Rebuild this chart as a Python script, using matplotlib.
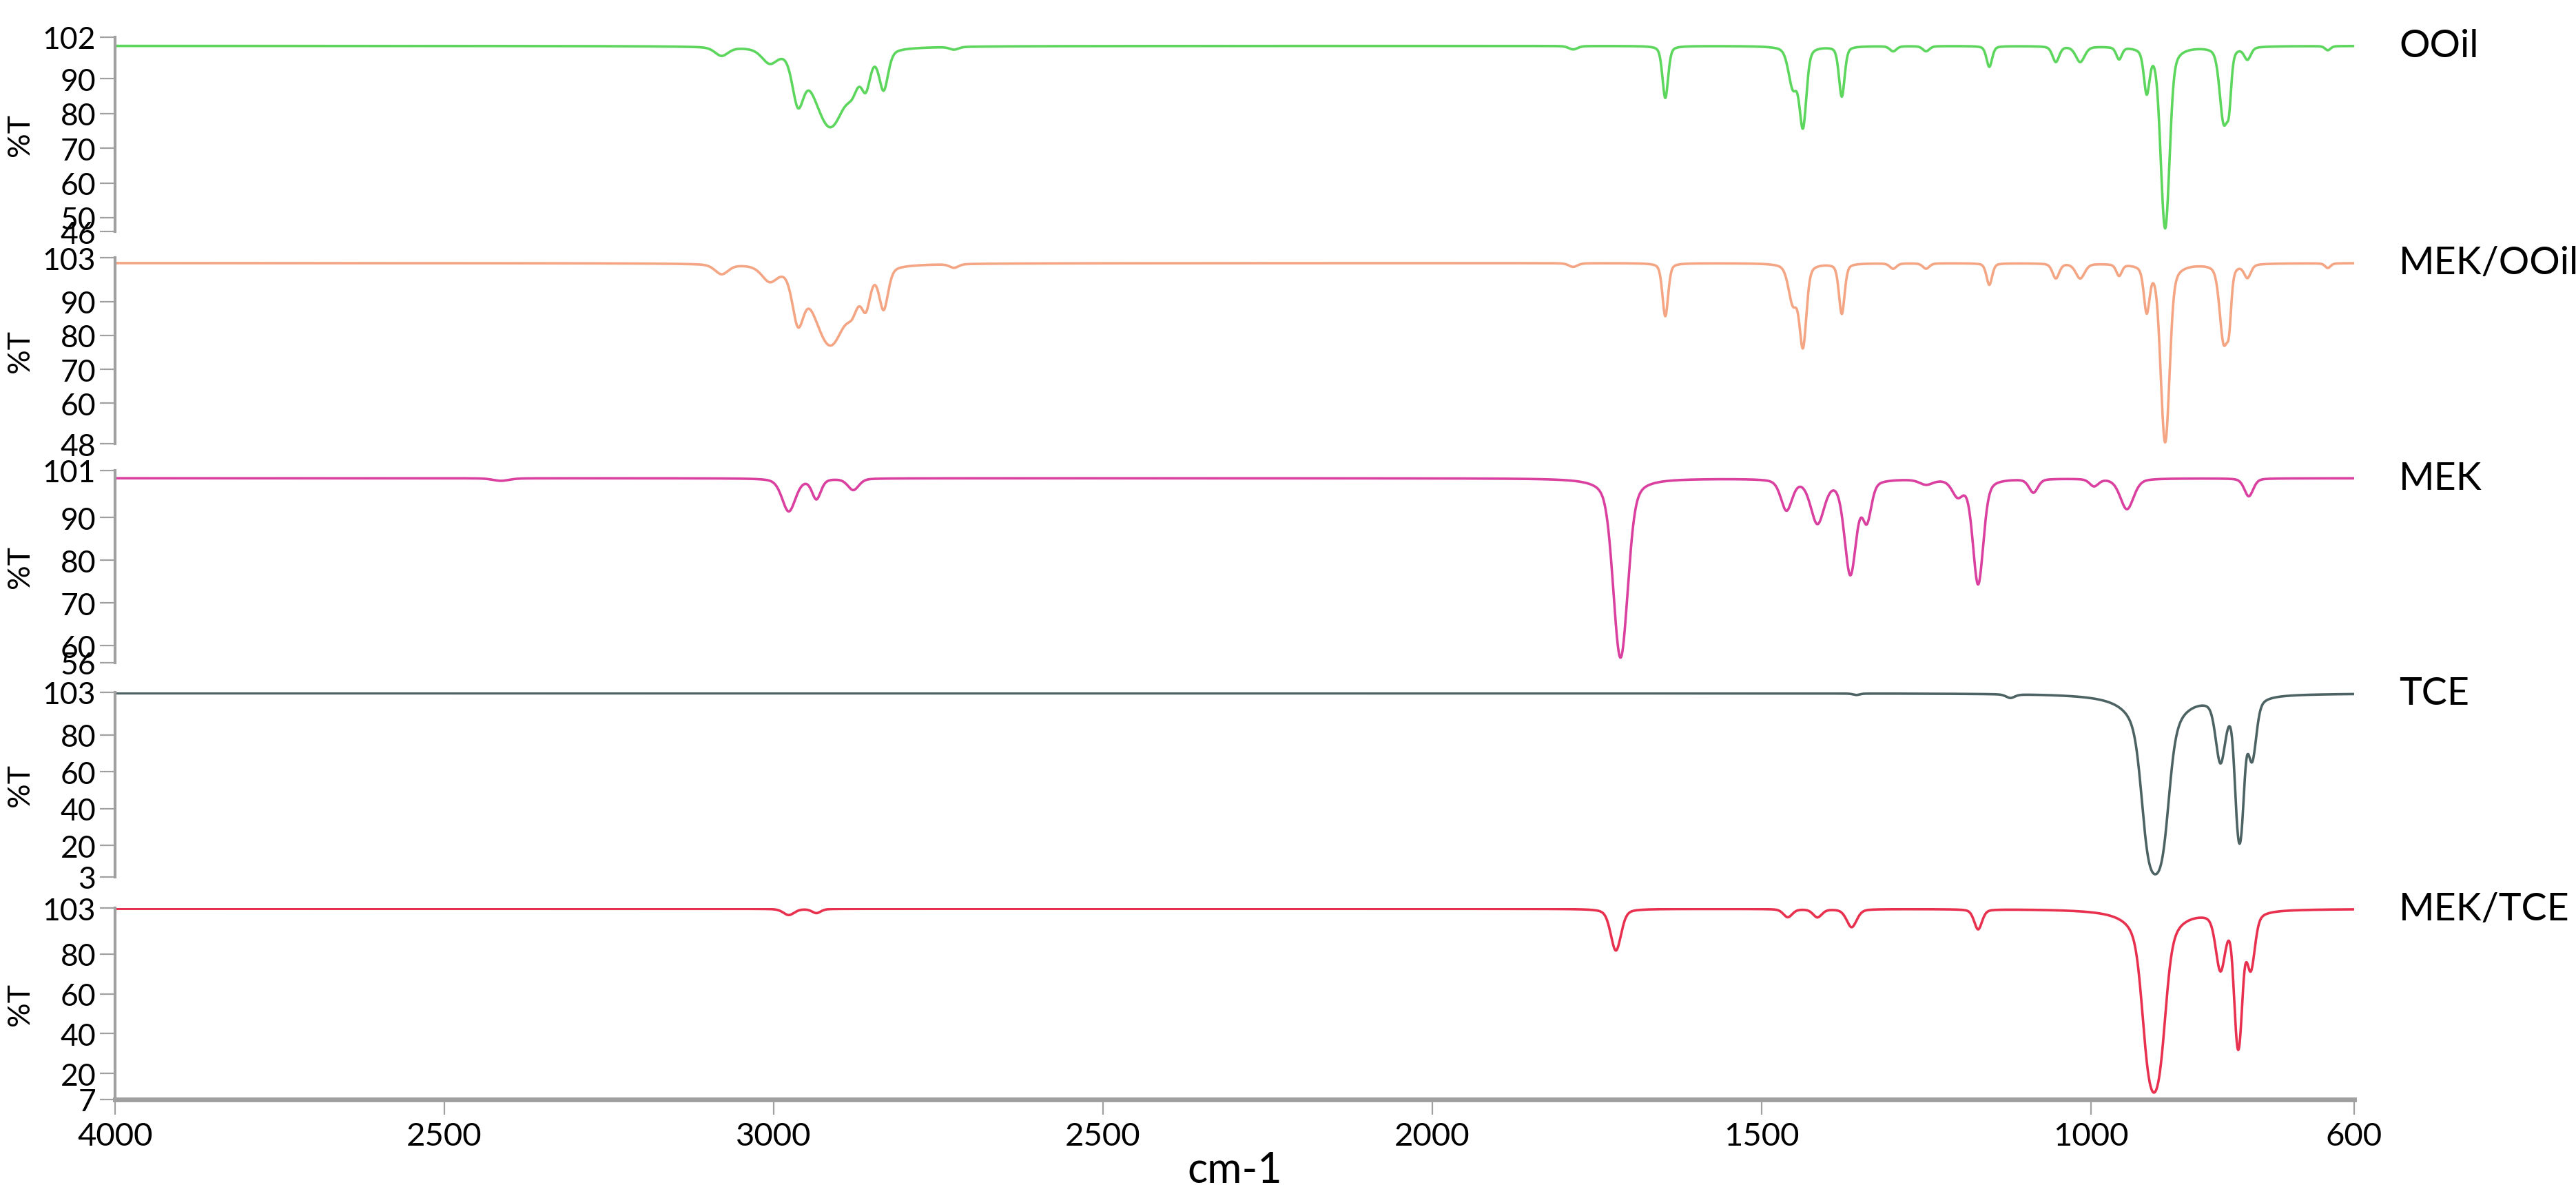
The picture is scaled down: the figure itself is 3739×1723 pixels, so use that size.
import numpy as np
import matplotlib
matplotlib.use("Agg")
from matplotlib import pyplot as plt
from matplotlib.transforms import ScaledTranslation

plt.rcParams['font.family'] = ['Lato', 'DejaVu Sans']

# spectrum names, colours, baselines and y ticks
names = ['OOil', 'MEK/OOil', 'MEK', 'TCE', 'MEK/TCE']
colors = ['#5cd65c', '#f4a583', '#d9409f', '#4d6363', '#e8304f']
baselines = [99.5, 101.4, 99.2, 102.5, 102.6]
ylims = [(46, 102), (48, 103), (56, 101), (3, 103), (7, 103)]
yticks = [[46, 50, 60, 70, 80, 90, 102],
          [48, 60, 70, 80, 90, 103],
          [56, 60, 70, 80, 90, 101],
          [3, 20, 40, 60, 80, 103],
          [7, 20, 40, 60, 80, 103]]

# absorption bands: (wavenumber, %T at minimum, half width)
ooil_peaks = [(3079, 97.0, 12), (3006, 95.5, 14), (2963, 85.5, 10), (2914, 76.5, 28),
              (2880, 94, 10), (2860, 90, 8), (2833, 88, 8), (2726, 98.7, 8),
              (1786, 98.5, 8), (1646, 84.5, 5), (1452, 88, 8), (1437, 77, 6),
              (1378, 85, 5), (1300, 98, 6), (1250, 98, 6), (1154, 93.5, 5),
              (1053, 95, 6), (1016, 95, 8), (957, 96, 5), (915, 87, 5),
              (887, 47, 7), (798, 78, 7), (790, 88, 4), (762, 96, 6), (640, 98.3, 5)]
mek_ooil_peaks = [(3079, 98.5, 12), (3006, 97.0, 14), (2963, 86.5, 10), (2914, 77.5, 28),
                  (2880, 95, 10), (2860, 91, 8), (2833, 89, 8), (2726, 100.3, 8),
                  (1786, 100.3, 8), (1646, 85.7, 5), (1452, 90, 8), (1437, 77.5, 6),
                  (1378, 86.5, 5), (1300, 99.8, 6), (1250, 99.8, 6), (1154, 95, 5),
                  (1053, 97, 6), (1016, 97, 8), (957, 98, 5), (915, 88, 5),
                  (887, 48.5, 7), (798, 78.5, 7), (790, 89, 4), (762, 97.5, 6), (640, 100, 5)]
mek_peaks = [(3414, 98.6, 15), (2977, 91.5, 12), (2935, 94.5, 8), (2879, 96.5, 10),
             (1714, 57.2, 12), (1462, 92, 10), (1415, 89, 12), (1365, 77, 10),
             (1340, 90, 8), (1250, 98, 12), (1202, 95.5, 10), (1171, 74.5, 9),
             (1087, 96, 8), (995, 97.5, 8), (945, 92, 12), (760, 95, 8)]
tce_peaks = [(1356, 101.7, 6), (1122, 100.5, 8), (902, 4.5, 14), (803, 68, 8),
             (774, 22, 6), (755, 70, 7)]
mek_tce_peaks = [(2977, 99.5, 10), (2935, 100.5, 8), (1721, 81.7, 9), (1460, 98.5, 8),
                 (1415, 98.5, 8), (1363, 93.5, 9), (1171, 92.5, 7), (904, 10.5, 13),
                 (803, 74, 8), (776, 33, 6), (757, 75, 7)]
peak_sets = [ooil_peaks, mek_ooil_peaks, mek_peaks, tce_peaks, mek_tce_peaks]

wn = np.linspace(4000, 600, 6800)


def spectrum(base, peaks):
    # pseudo-Voigt bands summed in absorbance
    absorb = np.zeros_like(wn)
    for pos, tmin, hw in peaks:
        a = np.log10(base / max(tmin, 0.5))
        d = (wn - pos) / hw
        absorb += a * (0.4 / (1 + d ** 2) + 0.6 * np.exp(-np.log(2) * d ** 2))
    return base * 10 ** (-absorb)


W, H = 3739, 1724
fig = plt.figure(figsize=(W / 200, H / 200), dpi=200)
panels = [(55, 337), (375, 645), (684, 963), (1006, 1274), (1319, 1597)]
left, right = 167, 3417
grey = '#a0a0a0'

for i, (top, bot) in enumerate(panels):
    ax = fig.add_axes([left / W, 1 - bot / H, (right - left) / W, (bot - top) / H])
    y = spectrum(baselines[i], peak_sets[i])
    ax.plot(wn, y, color=colors[i], lw=1.3)
    ax.set_xlim(4000, 600)
    ax.set_ylim(*ylims[i])
    ax.set_yticks(yticks[i])
    ax.tick_params(axis='y', labelsize=16, length=8, color=grey, pad=2)
    for s in ['top', 'right']:
        ax.spines[s].set_visible(False)
    ax.spines['left'].set_color(grey)
    ax.spines['left'].set_linewidth(1.5)
    ax.set_ylabel('%T', fontsize=16)
    ax.yaxis.set_label_coords(-0.036, 0.5)
    ax.text(1.02, (baselines[i] - ylims[i][0]) / (ylims[i][1] - ylims[i][0]), names[i],
            transform=ax.transAxes, fontsize=20, va='center', ha='left')
    if i < 4:
        ax.spines['bottom'].set_visible(False)
        ax.set_xticks([])
    else:
        ax.spines['bottom'].set_color(grey)
        ax.spines['bottom'].set_linewidth(2.5)
        ax.set_xticks([4000, 3500, 3000, 2500, 2000, 1500, 1000, 600])
        ax.set_xticklabels(['4000', '2500', '3000', '2500', '2000', '1500', '1000', '600'])
        ax.tick_params(axis='x', labelsize=17, length=8, color=grey)
        ax.set_xlabel('cm-1', fontsize=22, labelpad=0)

fig.savefig('out.png', dpi=200)
